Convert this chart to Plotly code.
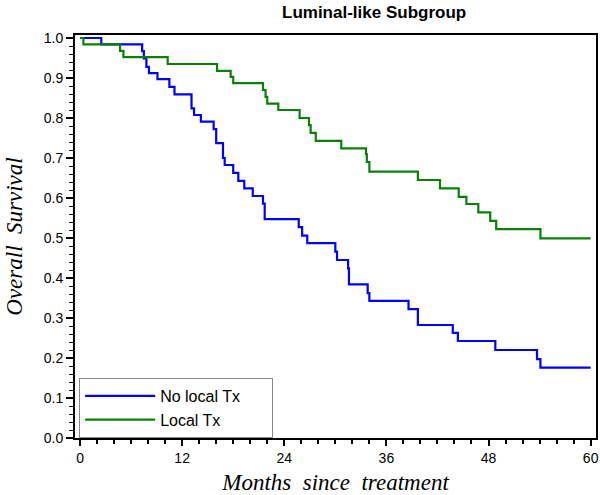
import plotly.graph_objects as go

# Kaplan-Meier step data
no_local_months = [0, 2.5, 7.3, 7.5, 7.8, 8.1, 9.1, 10.5, 11.1, 13.1, 13.4, 14.2, 15.7, 16.0,
                   16.8, 17.0, 18.0, 18.6, 19.3, 20.3, 21.5, 21.7, 25.7, 26.1, 26.7, 30.0,
                   30.2, 31.5, 31.6, 33.8, 34.0, 38.6, 39.7, 43.8, 44.4, 48.8, 53.7, 54.1, 60.0]
no_local_surv = [1.0, 0.984, 0.967, 0.949, 0.928, 0.912, 0.897, 0.878, 0.859, 0.824, 0.8075,
                 0.791, 0.772, 0.737, 0.70, 0.6825, 0.663, 0.643, 0.624, 0.605, 0.586, 0.547,
                 0.527, 0.506, 0.487, 0.466, 0.445, 0.424, 0.384, 0.362, 0.343, 0.322, 0.2825,
                 0.263, 0.2425, 0.22, 0.197, 0.176, 0.176]

local_months = [0, 0.4, 4.7, 5.1, 10.3, 16.1, 17.7, 18.0, 21.5, 21.8, 22.0, 23.3, 25.8, 26.9,
                27.1, 27.7, 30.7, 33.6, 33.7, 34.0, 39.7, 42.3, 44.5, 45.4, 46.8, 48.2, 48.9,
                54.1, 60.0]
local_surv = [1.0, 0.984, 0.968, 0.952, 0.935, 0.918, 0.903, 0.887, 0.87, 0.853, 0.836, 0.82,
              0.80, 0.782, 0.763, 0.743, 0.724, 0.71, 0.69, 0.666, 0.645, 0.624, 0.603, 0.585,
              0.564, 0.543, 0.522, 0.499, 0.499]

series_names = ["No local Tx", "Local Tx"]
series_colors = ["#0000FF", "#0A800A"]

x_ticks = [0, 12, 24, 36, 48, 60]
y_ticks = [0.0, 0.1, 0.2, 0.3, 0.4, 0.5, 0.6, 0.7, 0.8, 0.9, 1.0]

legend_pad = "&nbsp;" * 6  # widens the legend box like the reference

fig = go.Figure()
for name, xs, ys, col in [(series_names[0], no_local_months, no_local_surv, series_colors[0]),
                          (series_names[1], local_months, local_surv, series_colors[1])]:
    fig.add_trace(go.Scatter(x=xs, y=ys, mode="lines", name=name + legend_pad,
                             line=dict(color=col, width=2.2, shape="hv")))

axis_font = dict(family="Liberation Sans, Arial, sans-serif", size=14, color="black")
title_font = dict(family="Liberation Serif, Times New Roman, serif", size=23, color="black")

fig.update_layout(
    width=600, height=495,
    margin=dict(l=75, r=4, t=35, b=57, autoexpand=False),
    paper_bgcolor="white", plot_bgcolor="white",
    title=dict(text="<b>Luminal-like Subgroup</b>", x=282/600, xanchor="left",
               y=1 - 12/495, yanchor="middle", automargin=False,
               font=dict(family="Liberation Sans, Arial, sans-serif", size=17, color="black")),
    xaxis=dict(range=[-0.59, 60.63], tickvals=x_ticks, ticktext=[str(v) for v in x_ticks],
               ticks="outside", ticklen=6, tickwidth=1.5, tickcolor="black",
               minor=dict(dtick=2, tick0=0, ticks="outside", ticklen=4, tickwidth=1.5, tickcolor="black"),
               showline=True, linewidth=2, linecolor="black", mirror=True,
               showgrid=False, zeroline=False, tickfont=axis_font, automargin=False,
               title=dict(text="<i>Months  since  treatment</i>", font=title_font)),
    yaxis=dict(range=[0, 1.0075], tickvals=y_ticks, ticktext=[f"{v:.1f}" for v in y_ticks],
               ticks="outside", ticklen=7, tickwidth=1.5, tickcolor="black",
               minor=dict(dtick=0.02, tick0=0, ticks="outside", ticklen=4, tickwidth=1.2, tickcolor="black"),
               showline=True, linewidth=2, linecolor="black", mirror=True,
               showgrid=False, zeroline=False, tickfont=axis_font, automargin=False,
               title=dict(text="<i>Overall  Survival</i>", font=title_font)),
    showlegend=True,
    legend=dict(x=0.008, y=0.0, xanchor="left", yanchor="bottom",
                bgcolor="white", bordercolor="#888888", borderwidth=1,
                font=dict(family="Liberation Sans, Arial, sans-serif", size=16, color="black"),
                itemwidth=70, tracegroupgap=0),
)

fig.write_html("out.html", config={"displayModeBar": False},
               post_script="document.body.style.margin='0';document.body.style.overflow='hidden';")
